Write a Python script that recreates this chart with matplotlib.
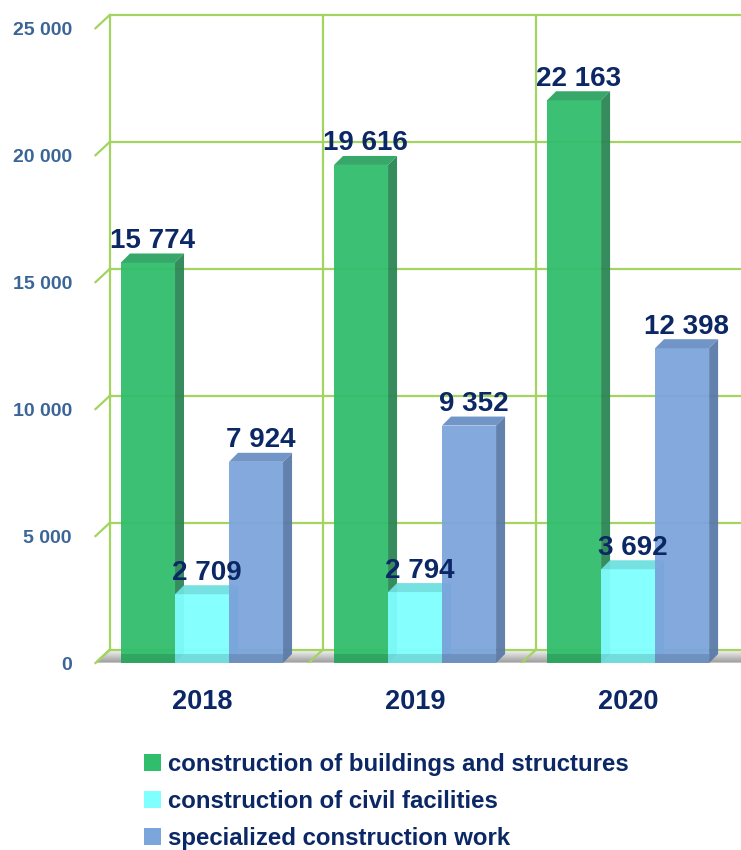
import numpy as np
import matplotlib
matplotlib.use("Agg")
import matplotlib.pyplot as plt
from matplotlib import font_manager
from matplotlib.patches import Polygon, Patch

# data
years = ["2018", "2019", "2020"]
buildings = [15774, 19616, 22163]
civil = [2709, 2794, 3692]
specialized = [7924, 9352, 12398]
series_names = ["construction of buildings and structures",
                "construction of civil facilities",
                "specialized construction work"]
y_ticks = [0, 5000, 10000, 15000, 20000, 25000]

# narrow font if available (reference looks like Arial Narrow)
names = {f.name for f in font_manager.fontManager.ttflist}
narrow = "Liberation Sans Narrow" if "Liberation Sans Narrow" in names else None
regular = "Liberation Sans"

front_cols = ["#30bd6c", "#80ffff", "#7ca5dc"]
side_cols = ["#2c8655", "#5fcaca", "#5b7aa9"]
top_cols = ["#2ca262", "#6ee0e0", "#6a8fc4"]
grid_col = "#a3d460"
navy = "#0b2765"
tick_col = "#3b6597"

fig = plt.figure(figsize=(7.41, 8.5), dpi=100)
ax = fig.add_axes([95.5 / 741, (850 - 663) / 850, (741 - 95.5) / 741, 650 / 850])
ax.set_xlim(-0.5, 2.53)
ax.set_ylim(0, 25600)

# depth of back wall / bars in data units
fdx, fdy = 14 / 213, 13 / 127 * 5000
bdx, bdy = 9 / 213, 9 / 127 * 5000
w = 54 / 213

x = np.arange(len(years))

# floor
floor = Polygon([(-0.5, 0), (2.53, 0), (2.53, fdy), (-0.5 + fdx, fdy)],
                closed=True, facecolor="none", edgecolor="none", zorder=1)
ax.add_patch(floor)
grad = np.linspace(0, 1, 50).reshape(-1, 1)
img = ax.imshow(grad, extent=(-0.5, 2.53, 0, fdy), aspect="auto", origin="upper",
                cmap=matplotlib.colors.LinearSegmentedColormap.from_list("fl", ["#f4f4f4", "#9a9a9a"]),
                zorder=1)
img.set_clip_path(floor)
ax.plot([-0.5, 2.53], [0, 0], color="#c4c4c4", lw=1.5, zorder=1.5)

# back wall grid
for v in y_ticks:
    ax.plot([-0.5 + fdx, 2.53], [v + fdy, v + fdy], color=grid_col, lw=1.6, zorder=2)
    ax.plot([-0.5, -0.5 + fdx], [v, v + fdy], color=grid_col, lw=1.6, zorder=2, clip_on=False)
for b in [-0.5, 0.5, 1.5]:
    ax.plot([b + fdx, b + fdx], [fdy, y_ticks[-1] + fdy], color=grid_col, lw=1.6, zorder=2)
    ax.plot([b, b + fdx], [0, fdy], color=grid_col, lw=1.6, zorder=2)

# bars with fake 3d faces
all_vals = [buildings, civil, specialized]
for i, vals in enumerate(all_vals):
    xs = x + (i - 1) * w
    z = 3 + i
    ax.bar(xs, vals, width=w, color=front_cols[i], alpha=0.95, zorder=z, linewidth=0)
    ax.bar(xs, [bdy] * len(xs), width=w, color="black", alpha=0.12, zorder=z, linewidth=0)
    for xc, v in zip(xs, vals):
        r = xc + w / 2
        l = xc - w / 2
        ax.add_patch(Polygon([(r, 0), (r + bdx, bdy), (r + bdx, v + bdy), (r, v)],
                             closed=True, facecolor=side_cols[i], edgecolor="none",
                             alpha=0.95, zorder=z))
        ax.add_patch(Polygon([(l, v), (r, v), (r + bdx, v + bdy), (l + bdx, v + bdy)],
                             closed=True, facecolor=top_cols[i], edgecolor="none",
                             alpha=0.95, zorder=z))
        ax.annotate(f"{v:,}".replace(",", " "), (xc + bdx / 2, v + bdy),
                    xytext=(0, 4), textcoords="offset points", ha="center", va="baseline",
                    fontsize=20, fontweight="bold", color=navy, family=regular, zorder=10)

for s in ax.spines.values():
    s.set_visible(False)

lab_font = narrow if narrow else regular
ax.set_yticks(y_ticks)
ax.set_yticklabels([f"{v:,}".replace(",", " ") for v in y_ticks],
                   fontsize=16 if narrow else 14, fontweight="bold", color=tick_col, family=lab_font)
ax.set_xticks(x)
ax.set_xticklabels(years, fontsize=23 if narrow else 19.5, fontweight="bold", color=navy, family=lab_font)
ax.tick_params(axis="y", length=0, pad=17)
ax.tick_params(axis="x", length=0, pad=19)

handles = [Patch(facecolor=c, edgecolor="none") for c in front_cols]
leg = fig.legend(handles, series_names, loc="upper left", bbox_to_anchor=(132 / 741, 1 - 741 / 850),
                 frameon=False, handlelength=0.7, handleheight=0.7, handletextpad=0.3,
                 labelspacing=0.58, borderpad=0,
                 prop={"family": lab_font, "weight": "bold", "size": 19.5 if narrow else 17.3})
for t in leg.get_texts():
    t.set_color(navy)

fig.savefig("out.png", dpi=100)
